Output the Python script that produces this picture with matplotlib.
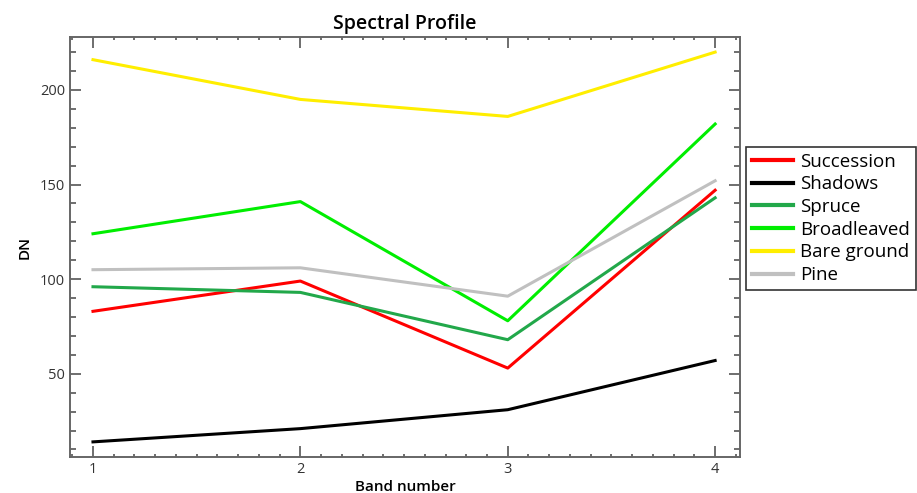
import numpy as np
import matplotlib.pyplot as plt
from matplotlib.ticker import MultipleLocator

plt.rcParams['font.family'] = ['Open Sans', 'DejaVu Sans']

bands = [1, 2, 3, 4]
names = ["Succession", "Shadows", "Spruce", "Broadleaved", "Bare ground", "Pine"]
colors = ["#ff0000", "#000000", "#22a84a", "#00ee00", "#ffee00", "#c0c0c0"]
succession = [83, 99, 53, 147]
shadows = [14, 21, 31, 57]
spruce = [96, 93, 68, 143]
broadleaved = [124, 141, 78, 182]
bare_ground = [216, 195, 186, 220]
pine = [105, 106, 91, 152]
series = [succession, shadows, spruce, broadleaved, bare_ground, pine]

fig = plt.figure(figsize=(9.17, 4.93), dpi=100)
ax = fig.add_axes([0.0763, 0.073, 0.7307, 0.852])

for name, vals, c in zip(names, series, colors):
    ax.plot(bands, vals, color=c, lw=2.2, label=name)

ax.set_xlim(0.889, 4.12)
ax.set_ylim(6, 228)
ax.set_xticks(bands)
ax.yaxis.set_major_locator(MultipleLocator(50))
ax.yaxis.set_minor_locator(MultipleLocator(10))
ax.xaxis.set_minor_locator(MultipleLocator(0.1))
ax.tick_params(which='both', direction='in', top=True, right=True, colors='#555555',
               labelcolor='#333333', labelsize=10.5, width=1.2)
ax.tick_params(which='major', length=8)
ax.tick_params(which='minor', length=4)
ax.tick_params(axis='x', which='minor', length=2)
for s in ax.spines.values():
    s.set_color('#666666')
    s.set_linewidth(1.4)

ax.set_title("Spectral Profile", fontsize=14, pad=6, fontweight='semibold')
ax.set_xlabel("Band number", fontsize=11, labelpad=2, fontweight='semibold')
ax.set_ylabel("DN", fontsize=11, labelpad=6, fontweight='semibold')

leg = fig.legend(loc='upper left', bbox_to_anchor=(746 / 917, 1 - 147 / 493),
                 fontsize=13.5, frameon=True, fancybox=False, handlelength=2.2,
                 handletextpad=0.4, labelspacing=0.25, borderpad=0.3, borderaxespad=0)
leg.get_frame().set_edgecolor('black')
leg.get_frame().set_linewidth(1.2)
for line in leg.get_lines():
    line.set_linewidth(3)

fig.savefig("out.png", dpi=100)
